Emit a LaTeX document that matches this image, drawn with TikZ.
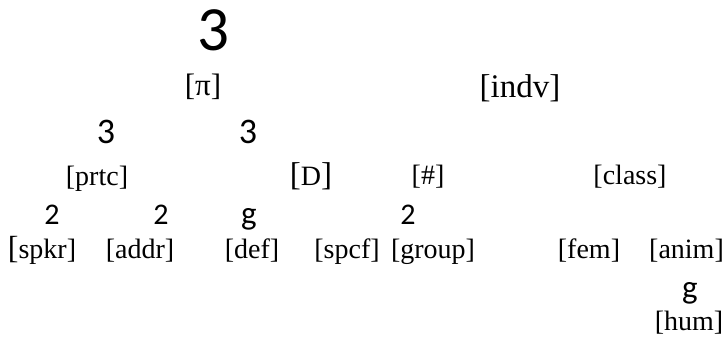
\documentclass[tikz,border=0pt]{standalone}
\usepackage{fontspec}
\setmainfont{Liberation Serif}
\newfontfamily\digfont{Carlito}
\tikzset{
  lbl/.style={inner sep=0pt, anchor=base, font=\fontsize{28}{28}\selectfont},
  br/.style={inner sep=0pt, anchor=center, font=\digfont\fontsize{#1}{#1}\selectfont}
}
\begin{document}
\begin{tikzpicture}[x=1pt,y=1pt]
\useasboundingbox (0,0) rectangle (723,-340);
% branch glyphs
\node[br=63] (b0) at (213,-30) {3};
\node[br=36] (b1) at (106,-131.5) {3};
\node[br=36] (b2) at (248,-131.5) {3};
\node[br=30] (b3) at (52,-215) {2};
\node[br=30] (b4) at (161,-215) {2};
\node[br=33] (b5) at (249,-219) {g};
\node[br=30] (b6) at (408,-215) {2};
\node[br=33] (b7) at (690,-293) {g};
% labels
\node[lbl,font=\fontsize{31}{31}\selectfont] (pi) at (203,-95) {[π]};
\node[lbl,font=\fontsize{33}{33}\selectfont] (indv) at (520,-97) {[indv]};
\node[lbl] (prtc) at (97,-185.5) {[prtc]};
\node[lbl] (D) at (311,-185) {{\fontsize{33}{33}\selectfont[}D{\fontsize{33}{33}\selectfont]}};
\node[lbl] (num) at (428,-184) {[\#]};
\node[lbl] (class) at (630,-184) {[class]};
\node[lbl] (spkr) at (42,-258.5) {{\fontsize{32}{32}\selectfont[}spkr]};
\node[lbl] (addr) at (140,-258.5) {[addr]};
\node[lbl] (def) at (252,-258.5) {[def]};
\node[lbl] (spcf) at (347,-258.5) {[spcf]};
\node[lbl] (group) at (433,-258.5) {[group]};
\node[lbl] (fem) at (589,-258.5) {[fem]};
\node[lbl] (anim) at (686.5,-258.5) {[anim]};
\node[lbl] (hum) at (689,-330.5) {[hum]};
\end{tikzpicture}
\end{document}
